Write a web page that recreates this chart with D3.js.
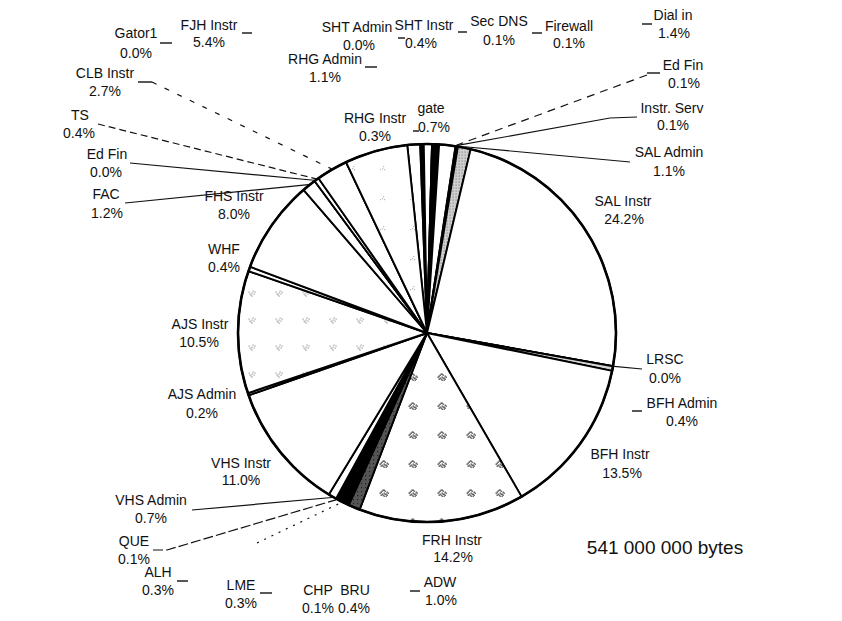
<!DOCTYPE html>
<html><head><meta charset="utf-8">
<script src="https://cdn.jsdelivr.net/npm/d3@7"></script>
<style>body{margin:0;background:#fff}svg{display:block}</style>
</head><body>
<svg id="c" width="842" height="621"></svg>
<script>
// ---- data (clockwise, starting just left of 12 o'clock) ----
const categories = ["RHG Admin","RHG Instr","gate","SHT Admin","SHT Instr","Sec DNS","Firewall","Dial in","Ed Fin","Instr. Serv","SAL Admin","SAL Instr","LRSC","BFH Admin","BFH Instr","FRH Instr","ADW","BRU","CHP","LME","ALH","QUE","VHS Admin","VHS Instr","AJS Admin","AJS Instr","WHF","FHS Instr","FAC","Ed Fin","TS","CLB Instr","Gator1","FJH Instr"];
const shares = [1.1,0.3,0.7,0.0,0.4,0.1,0.1,1.4,0.1,0.1,1.1,24.2,0.0,0.4,13.5,14.2,1.0,0.4,0.1,0.3,0.3,0.1,0.7,11.0,0.2,10.5,0.4,8.0,1.2,0.0,0.4,2.7,0.0,5.4];
const totalLabel = "541 000 000 bytes";

// ---- styles ----
const sliceFill = ["#fff","#000","#fff","#fff","#000","#fff","#fff","#fff","#000","#000","url(#gray1)","#fff","#fff","#d4d4d4","#fff","url(#stip2)","url(#dark)","#000","#000","#000","#000","#000","#fff","#fff","#b5b5b5","url(#stip1)","#fff","#fff","#fff","#fff","#fff","#fff","#fff","url(#stip0)"];

// ---- layout (label positions: nameX, nameY, pctX, pctY) ----
const labelLayout = [
 [325,59,325,77],[375,118,375,136],[431,108,434,127],[357,27,359,45],[424,25,421,43],
 [499,21,499,40],[569,26,569,43],[673,15,674,33],[683,65,684,83],[672,108,673,125],
 [669,152,669,171],[623,201,624,219],[665,359,665,378],[682,403,682,421],[620,454,622,473],
 [452,540,453,557],[440,582,441,600],[355,590,354,608],[318,590,318,608],[241,585,241,603],
 [158,572,158,590],[134,541,134,559],[151,500,151,518],[241,463,241,480],[202,394,202,413],
 [200,324,199,342],[224,249,224,267],[234,196,234,214],[106,194,107,213],[107,154,106,172],
 [80,115,79,133],[105,73,105,91],[136,33,136,53],[209,25,209,42]
];
const tickMarks = [[160,43,172,43],[242,33,252,33],[138,82,152,82],[365,67,377,67],[398,38,405,38],
 [458,32,467,32],[532,33,542,33],[642,24,652,24],[647,73,660,73],[413,131,419,131],[632,411,642,411],
 [177,581,188,581],[260,593,272,593],[410,591,420,591]];
const leaders = [
 {i:30, from:[[98,124]], dash:"7,4"},
 {i:29, from:[[130,163]], dash:null},
 {i:28, from:[[125,203]], dash:null},
 {i:31, from:[[152,82]], dash:"5,9"},
 {i:8,  from:[[647,75]], dash:"8,6"},
 {i:9,  from:[[637,117],[610,118]], dash:null},
 {i:10, from:[[630,162]], dash:null},
 {i:12, from:[[642,369]], dash:null},
 {i:22, from:[[192,510]], dash:null},
 {i:21, from:[[153,550],[167,550]], dash:"10,3"},
 {i:19, from:[[257,543]], dash:"2,6"}
];

const W = 842, H = 621, cx = 427, cy = 333, R = 189;
const svg = d3.select("#c");
svg.append("rect").attr("width",W).attr("height",H).attr("fill","#fff");

// patterns
const defs = svg.append("defs");
const blob = [[0,0],[2,1],[-2,1],[1,-2],[-1,2],[3,-1],[-3,-1],[0,3],[0,-3],[2,3],[-2,-2],[3,2],[-3,2],[1,1],[-1,-3],[4,0],[-4,0]];
function speckle(id, size, color, pts, bg, ds) {
  const p = defs.append("pattern").attr("id",id).attr("patternUnits","userSpaceOnUse")
    .attr("width",size).attr("height",size);
  p.append("rect").attr("width",size).attr("height",size).attr("fill",bg);
  const c = size/2;
  p.selectAll("rect.d").data(pts).join("rect").attr("class","d")
    .attr("x",d=>c+d[0]).attr("y",d=>c+d[1]).attr("width",ds).attr("height",ds).attr("fill",color);
}
speckle("stip2", 29, "#555", blob, "#fff", 1.4);
speckle("stip1", 27, "#999", blob.slice(0,8), "#fff", 1.2);
speckle("stip0", 30, "#bbb", blob.slice(0,4), "#fff", 1.2);
speckle("dark", 4, "#222", [[0,0]], "#555", 1.2);
speckle("gray1", 3, "#888", [[0,0]], "#cfcfcf", 1.2);

const a0 = -6.0 * Math.PI/180;
const pie = d3.pie().sort(null).value(d=>d).startAngle(a0).endAngle(a0 + 2*Math.PI);
const arcs = pie(shares);
const arc = d3.arc().innerRadius(0).outerRadius(R);
const g = svg.append("g").attr("transform",`translate(${cx},${cy})`);
g.selectAll("path.s").data(arcs).join("path").attr("class","s")
  .attr("d",arc).attr("fill",(d,i)=>sliceFill[i])
  .attr("stroke","#000").attr("stroke-width",1.9).attr("stroke-linejoin","round");
g.append("circle").attr("r",R).attr("fill","none").attr("stroke","#000").attr("stroke-width",2.6);

// leaders
const rim = (i, rr) => {
  const a = (arcs[i].startAngle + arcs[i].endAngle)/2;
  return [cx + rr*Math.sin(a), cy - rr*Math.cos(a)];
};
const line = d3.line();
svg.selectAll("path.ld").data(leaders).join("path").attr("class","ld")
  .attr("d",d=>line([...d.from, rim(d.i, R+1)]))
  .attr("fill","none").attr("stroke","#111").attr("stroke-width",1.2)
  .attr("stroke-dasharray",d=>d.dash);
svg.selectAll("line.tk").data(tickMarks).join("line").attr("class","tk")
  .attr("x1",d=>d[0]).attr("y1",d=>d[1]).attr("x2",d=>d[2]).attr("y2",d=>d[3])
  .attr("stroke","#111").attr("stroke-width",1.4);

// labels
const font = "'Liberation Sans', Arial, Helvetica, sans-serif";
const lg = svg.append("g").attr("font-family",font).attr("font-size",14).attr("fill","#111")
  .attr("text-anchor","middle");
lg.selectAll("text.n").data(categories).join("text").attr("class","n")
  .attr("x",(d,i)=>labelLayout[i][0]).attr("y",(d,i)=>labelLayout[i][1]+5).text(d=>d);
lg.selectAll("text.p").data(shares).join("text").attr("class","p")
  .attr("x",(d,i)=>labelLayout[i][2]).attr("y",(d,i)=>labelLayout[i][3]+5).text(d=>d.toFixed(1)+"%");

svg.append("text").attr("x",665).attr("y",554).attr("text-anchor","middle")
  .attr("font-family",font).attr("font-size",19).attr("fill","#111").text(totalLabel);
</script>
</body></html>
